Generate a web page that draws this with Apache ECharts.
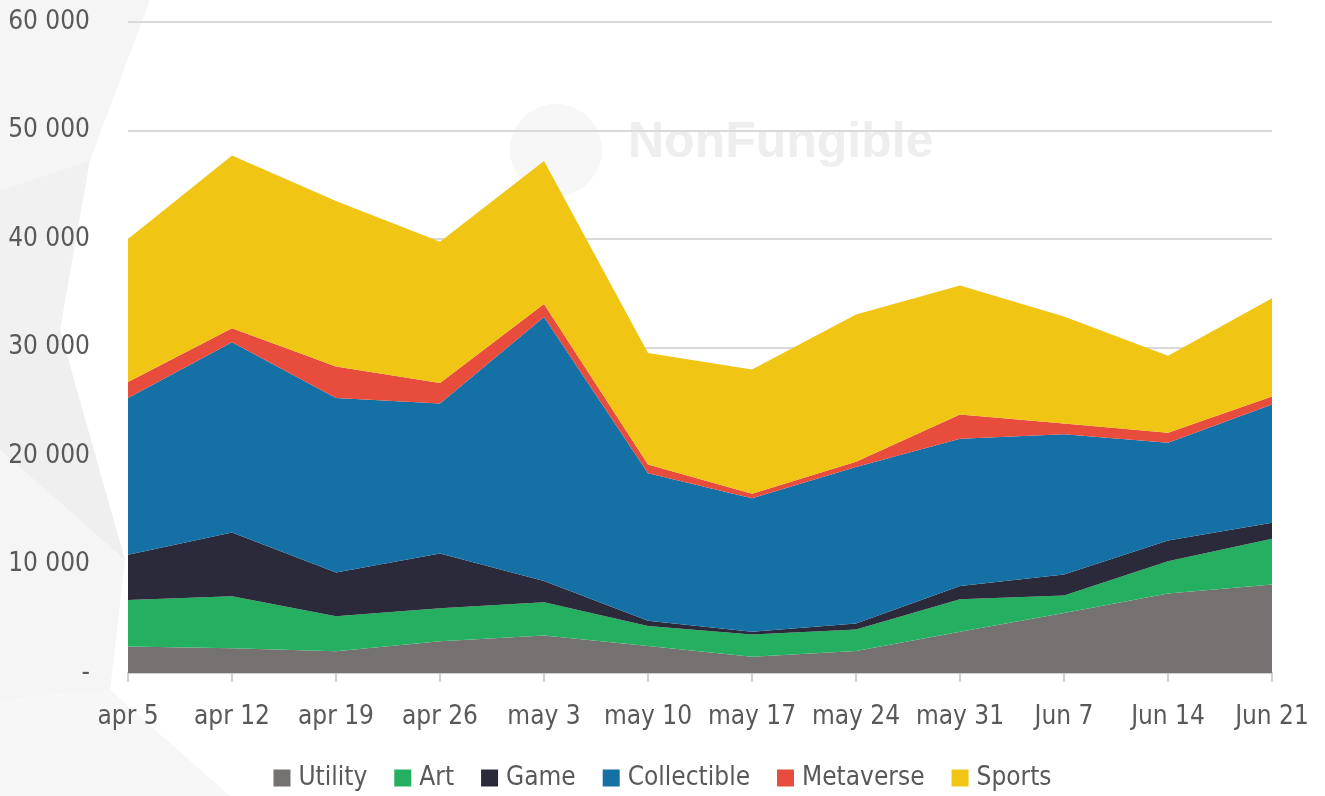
<!DOCTYPE html>
<html>
<head>
<meta charset="utf-8">
<script src="https://cdn.jsdelivr.net/npm/echarts@6/dist/echarts.min.js"></script>
<style>
  html, body { margin: 0; padding: 0; background: #fff; }
  #main { width: 1325px; height: 796px; }
</style>
</head>
<body>
<div id="main"></div>
<script>
  var weeks = ['apr 5', 'apr 12', 'apr 19', 'apr 26', 'may 3', 'may 10', 'may 17', 'may 24', 'may 31', 'Jun 7', 'Jun 14', 'Jun 21'];

  var utility     = [2450, 2290, 2000, 2920, 3460, 2500, 1490, 2030, 3800, 5540, 7320, 8150];
  var art         = [4280, 4790, 3240, 3050, 3050, 1840, 2050, 1990, 3000, 1600, 2990, 4220];
  var game        = [4160, 5870, 4030, 5050, 1970, 470, 260, 540, 1220, 1940, 1910, 1480];
  var collectible = [14450, 17530, 16070, 13810, 24320, 13610, 12310, 14430, 13580, 12920, 9010, 10890];
  var metaverse   = [1490, 1300, 2920, 1900, 1200, 790, 410, 470, 2220, 990, 920, 740];
  var sports      = [13170, 15910, 15240, 13020, 13180, 10290, 11460, 13580, 11900, 9870, 7080, 9070];

  var chartDom = document.getElementById('main');
  var chart = echarts.init(chartDom);

  function area(name, data, color) {
    return {
      name: name,
      type: 'line',
      stack: 'total',
      data: data,
      symbol: 'none',
      lineStyle: { width: 0 },
      areaStyle: { color: color, opacity: 1 },
      itemStyle: { color: color },
      animation: false,
      z: 3
    };
  }

  var txt = '#595959';
  var fontFam = '"DejaVu Sans Condensed", "Liberation Sans Narrow", sans-serif';

  var option = {
    backgroundColor: '#fff',
    graphic: [
      // faint background shapes
      { type: 'polygon', z: -10, silent: true, shape: { points: [[0, 0], [150, 0], [90, 160], [0, 190]] }, style: { fill: '#f5f5f5' } },
      { type: 'polygon', z: -10, silent: true, shape: { points: [[0, 190], [90, 160], [60, 330], [0, 360]] }, style: { fill: '#f1f1f1' } },
      { type: 'polygon', z: -10, silent: true, shape: { points: [[0, 360], [60, 330], [125, 560], [0, 450]] }, style: { fill: '#efefef' } },
      { type: 'polygon', z: -10, silent: true, shape: { points: [[0, 450], [125, 560], [110, 690], [0, 700]] }, style: { fill: '#f5f5f5' } },
      { type: 'polygon', z: -10, silent: true, shape: { points: [[0, 700], [110, 690], [230, 796], [0, 796]] }, style: { fill: '#f7f7f7' } },
      {
        type: 'text', z: -5, silent: true, left: 628, top: 118,
        style: { text: 'NonFungible', font: 'bold 50px "Liberation Sans", Arial, sans-serif', fill: '#eeeeee' }
      },
      { type: 'circle', z: -5, silent: true, shape: { cx: 556, cy: 150, r: 46 }, style: { fill: '#f7f7f7' } }
    ],
    grid: { left: 128, right: 53, top: 22, bottom: 123, containLabel: false },
    legend: {
      bottom: 0,
      left: 'center',
      icon: 'rect',
      itemWidth: 17,
      itemHeight: 17,
      itemGap: 27,
      textStyle: { color: txt, fontSize: 26, fontFamily: fontFam, padding: [0, 0, 0, 3] },
      data: ['Utility', 'Art', 'Game', 'Collectible', 'Metaverse', 'Sports']
    },
    xAxis: {
      type: 'category',
      boundaryGap: false,
      data: weeks,
      axisLine: { lineStyle: { color: '#d0d0d0', width: 2 } },
      axisTick: { show: true, alignWithLabel: true, length: 9, lineStyle: { color: '#d0d0d0', width: 2 } },
      axisLabel: { color: txt, fontSize: 26, fontFamily: fontFam, margin: 31, interval: 0 },
      splitLine: { show: false }
    },
    yAxis: {
      type: 'value',
      min: 0,
      max: 60000,
      interval: 10000,
      axisLine: { show: false },
      axisTick: { show: false },
      axisLabel: {
        color: txt, fontSize: 26, fontFamily: fontFam, margin: 38,
        formatter: function (v) {
          if (v === 0) return '-';
          return String(v).replace(/\B(?=(\d{3})+(?!\d))/g, ' ');
        }
      },
      splitLine: { lineStyle: { color: '#d9d9d9', width: 2 } }
    },
    series: [
      area('Utility', utility, '#757170'),
      area('Art', art, '#24b060'),
      area('Game', game, '#2a2a3a'),
      area('Collectible', collectible, '#1570a6'),
      area('Metaverse', metaverse, '#e74c3c'),
      area('Sports', sports, '#f0c514')
    ]
  };

  if (option && typeof option === 'object') {
    chart.setOption(option, true);
  }
</script>
</body>
</html>
